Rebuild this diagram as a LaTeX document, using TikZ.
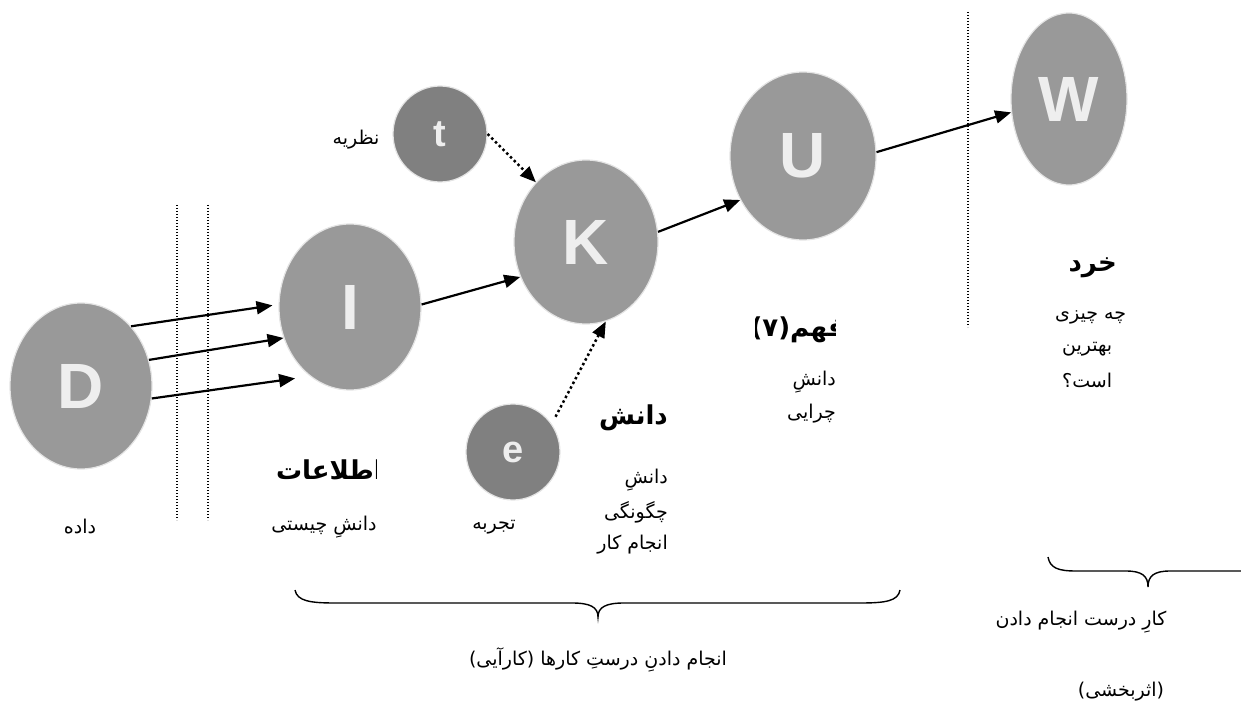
\documentclass[tikz,border=0pt]{standalone}
\usepackage{fontspec}
\usetikzlibrary{shapes.geometric,arrows.meta}
\TeXXeTstate=1
\newfontfamily\fa[Script=Arabic]{DejaVu Sans}
\newfontfamily\lat{Liberation Sans}
\definecolor{ballbig}{HTML}{999999}
\definecolor{ballsmall}{HTML}{808080}
\definecolor{letter}{HTML}{EEEEEE}
\definecolor{rim}{HTML}{E4E4E4}
\tikzset{
  ball/.style={ellipse, fill=ballbig, draw=rim, line width=1.2pt, inner sep=0pt,
    text=letter, font=\lat\bfseries\fontsize{64}{64}\selectfont},
  smallball/.style={ball, fill=ballsmall, font=\lat\bfseries\fontsize{38}{38}\selectfont},
  arr/.style={line width=2.2pt, -{Triangle[length=16pt,width=13pt]}},
  dotarr/.style={line width=2.5pt, dash pattern=on 2.5pt off 2.8pt,
    -{Triangle[length=16pt,width=13pt]}},
  sep/.style={line width=1.1pt, dash pattern=on 1.2pt off 1.8pt},
  brace/.style={line width=1.4pt},
  txt/.style={font=\fa\fontsize{19}{22}\selectfont, inner sep=0pt},
  head/.style={font=\fa\bfseries\fontsize{26}{30}\selectfont, inner sep=0pt},
}
\begin{document}
\begin{tikzpicture}[x=1pt,y=-1pt]
\useasboundingbox (0,0) rectangle (1241,711);

% separators
\draw[sep] (177,205) -- (177,520);
\draw[sep] (208,205) -- (208,520);
\draw[sep] (968,12) -- (968,327);

% the five stages and the two side inputs
\node[ball, minimum width=142pt, minimum height=166pt] (D) at (81,386) {D};
\node[ball, minimum width=142pt, minimum height=166pt] (I) at (350,307) {I};
\node[ball, minimum width=144pt, minimum height=164pt] (K) at (586,242) {K};
\node[ball, minimum width=146pt, minimum height=168pt] (U) at (803,156) {U};
\node[ball, minimum width=116pt, minimum height=172pt] (W) at (1069,99) {W};
\node[smallball, minimum width=94pt, minimum height=96pt] (t) at (440,134) {t};
\node[smallball, minimum width=94pt, minimum height=96pt] (e) at (513,452) {e};

% flow
\draw[arr, shorten >=6pt] (D.50) -- (I.178);
\draw[arr] (D.21) -- (I.205);
\draw[arr, shorten >=15pt] (D.-10) -- (I.240);
\draw[arr] (I.2) -- (K.208);
\draw[arr] (K.8) -- (U.215);
\draw[arr] (U.3) -- (W.193);
\draw[dotarr] (t.0) -- (K.130);
\draw[dotarr, shorten <=8pt] (e.36) -- (K.-76);

% labels
\node[txt] (lt) at (356,140) {\beginR نظریه\endR};
\node[txt] (ld) at (80,527) {\beginR داده\endR};
\begin{scope}
  \clip (230,440) rectangle (376,500);
  \node[head, anchor=east] (hI) at (383,470) {\beginR اطلاعات\endR};
\end{scope}
\node[txt] (lI) at (324,527) {\beginR دانشِ چیستی\endR};
\node[txt] (le) at (494,527) {\beginR تجربه\endR};

\node[head, anchor=east] (hK) at (668,418) {\beginR دانش\endR};
\node[txt, anchor=east] (lK1) at (668,480) {\beginR دانشِ\endR};
\node[txt, anchor=east] (lK2) at (668,512) {\beginR چگونگی\endR};
\node[txt, anchor=east] (lK3) at (668,545) {\beginR انجام کار\endR};

\begin{scope}
  \clip (755,300) rectangle (835,360);
  \node[head, anchor=east] (hU) at (845,330) {\beginR فهم(۷)\endR};
\end{scope}
\node[txt, anchor=east] (lU1) at (836,382) {\beginR دانشِ\endR};
\node[txt, anchor=east] (lU2) at (836,414) {\beginR چرایی\endR};

\node[head, anchor=east] (hW) at (1117,268) {\beginR خرد\endR};
\node[txt, anchor=west] (lW1) at (1055,317) {\beginR چه چیزی\endR};
\node[txt, anchor=west] (lW2) at (1062,349) {\beginR بهترین\endR};
\node[txt, anchor=west] (lW3) at (1062,380) {\beginR است؟\endR};

% braces
\draw[brace] (295,590) .. controls (297,601) and (310,603) .. (335,603)
  -- (572,603) .. controls (590,603) and (598,607) .. (598,617)
  .. controls (598,607) and (606,603) .. (624,603)
  -- (860,603) .. controls (886,603) and (898,601) .. (900,590);
\begin{scope}
  \clip (0,0) rectangle (1241,711);
  \draw[brace] (1048,557) .. controls (1050,568) and (1058,571) .. (1076,571)
    -- (1126,571) .. controls (1142,571) and (1148,576) .. (1148,587)
    .. controls (1148,576) and (1154,571) .. (1170,571) -- (1260,571);
\end{scope}

\node[txt] (lEff) at (598,660) {\beginR انجام دادنِ درستِ کارها (کارآیی)\endR};
\node[txt] (lRight) at (1081,622) {\beginR کارِ درست انجام دادن\endR};
\node[txt] (lRight2) at (1121,692) {\beginR (اثربخشی)\endR};
\end{tikzpicture}
\end{document}
